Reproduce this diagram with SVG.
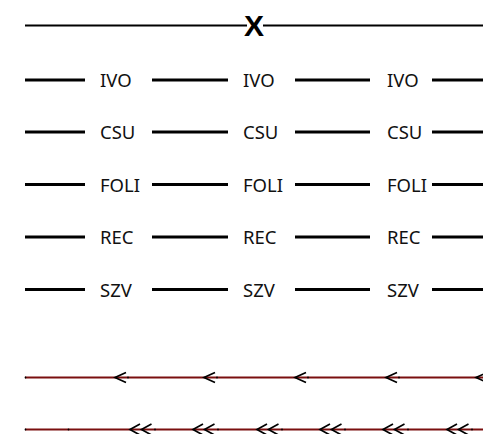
<svg xmlns="http://www.w3.org/2000/svg" width="483" height="434" viewBox="0 0 483 434">
<style>
.seg{stroke:#000;stroke-width:3.2;fill:none}
.top{stroke:#000;stroke-width:2;fill:none}
.lbl{font-family:"Noto Sans","Open Sans",sans-serif;font-size:18.5px;fill:#111}
.x{font-family:"Liberation Sans",Arial,sans-serif;font-weight:bold;font-size:30px;fill:#000}
.red{stroke:#7a0f0f;stroke-width:2;fill:none}
.ch{stroke:#000;stroke-width:1.7;fill:none}
</style>
<defs>
<g id="c1"><path class="ch" d="M11,-5 L0,0 L11,5"/><circle cx="13" cy="0" r="0.9" fill="#000"/></g>
<g id="c2"><path class="ch" d="M10,-5.5 L0,0 L10,5.5 M21.5,-5.5 L11.5,0 L21.5,5.5"/><circle cx="25" cy="0" r="0.9" fill="#000"/></g>
</defs>
<g id="connectors">
<line class="top" x1="25" y1="25.5" x2="247" y2="25.5"/>
<line class="top" x1="263" y1="25.5" x2="483" y2="25.5"/>
<g id="row-lines">
<path class="seg" d="M25,80H85M152,80H228M295,80H370M432,80H483"/>
<path class="seg" d="M25,132H85M152,132H228M295,132H370M432,132H483"/>
<path class="seg" d="M25,184.5H85M152,184.5H228M295,184.5H370M432,184.5H483"/>
<path class="seg" d="M25,237H85M152,237H228M295,237H370M432,237H483"/>
<path class="seg" d="M25,289.5H85M152,289.5H228M295,289.5H370M432,289.5H483"/>
</g>
<g id="single-arrow-line">
<line class="red" x1="25" y1="377.5" x2="483" y2="377.5"/>
<circle cx="25.5" cy="377.5" r="0.9" fill="#000"/>
<use href="#c1" x="115" y="377.5"/>
<use href="#c1" x="204" y="377.5"/>
<use href="#c1" x="295" y="377.5"/>
<use href="#c1" x="386" y="377.5"/>
<use href="#c1" x="476" y="377.5"/>
</g>
<g id="double-arrow-line">
<line class="red" x1="25" y1="429.5" x2="483" y2="429.5"/>
<circle cx="25.5" cy="429.5" r="0.9" fill="#000"/>
<circle cx="68.5" cy="429.5" r="0.9" fill="#000"/>
<use href="#c2" x="130" y="429.5"/>
<use href="#c2" x="193" y="429.5"/>
<use href="#c2" x="257" y="429.5"/>
<use href="#c2" x="320" y="429.5"/>
<use href="#c2" x="383" y="429.5"/>
<use href="#c2" x="447" y="429.5"/>
</g>
</g>
<g id="node-X"><text class="x" x="254" y="36" text-anchor="middle">X</text></g>
<g id="node-IVO-1"><text class="lbl" x="100" y="87">IVO</text></g>
<g id="node-IVO-2"><text class="lbl" x="243" y="87">IVO</text></g>
<g id="node-IVO-3"><text class="lbl" x="387" y="87">IVO</text></g>
<g id="node-CSU-1"><text class="lbl" x="100" y="139">CSU</text></g>
<g id="node-CSU-2"><text class="lbl" x="243" y="139">CSU</text></g>
<g id="node-CSU-3"><text class="lbl" x="387" y="139">CSU</text></g>
<g id="node-FOLI-1"><text class="lbl" x="100" y="191.5">FOLI</text></g>
<g id="node-FOLI-2"><text class="lbl" x="243" y="191.5">FOLI</text></g>
<g id="node-FOLI-3"><text class="lbl" x="387" y="191.5">FOLI</text></g>
<g id="node-REC-1"><text class="lbl" x="100" y="244">REC</text></g>
<g id="node-REC-2"><text class="lbl" x="243" y="244">REC</text></g>
<g id="node-REC-3"><text class="lbl" x="387" y="244">REC</text></g>
<g id="node-SZV-1"><text class="lbl" x="100" y="296.5">SZV</text></g>
<g id="node-SZV-2"><text class="lbl" x="243" y="296.5">SZV</text></g>
<g id="node-SZV-3"><text class="lbl" x="387" y="296.5">SZV</text></g>
</svg>
